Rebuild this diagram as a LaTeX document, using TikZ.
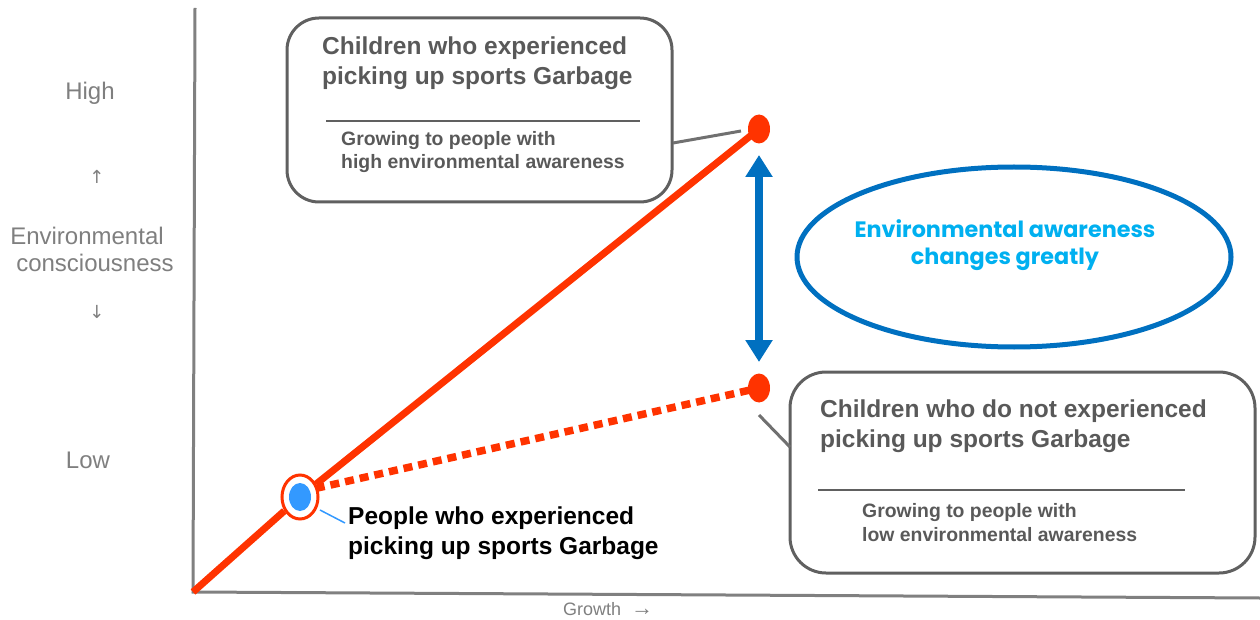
\documentclass[tikz,border=0pt]{standalone}
\usepackage{fontspec}
\setmainfont{Liberation Sans}
\newfontfamily\popfont{Poppins}
\newfontfamily\arrfont{DejaVu Sans}
\usetikzlibrary{shapes.geometric,arrows.meta}
\definecolor{redline}{HTML}{FF3300}
\definecolor{bluearrow}{HTML}{0070C0}
\definecolor{bluedot}{HTML}{3399FF}
\definecolor{cyantext}{HTML}{00B0F0}
\definecolor{boxgray}{HTML}{606060}
\definecolor{textgray}{HTML}{595959}
\definecolor{axisgray}{HTML}{808080}
\definecolor{labelgray}{HTML}{7F7F7F}
\tikzset{
  axisline/.style={draw=axisgray,line width=3pt},
  roundbox/.style={draw=boxgray,line width=3pt,rounded corners=32pt},
  titletext/.style={anchor=base west,inner sep=0pt,text=textgray,font=\fontsize{24.5}{30}\selectfont\bfseries},
  subtext/.style={anchor=base west,inner sep=0pt,text=textgray,font=\fontsize{19.4}{23}\selectfont\bfseries},
  sidelabel/.style={anchor=base,inner sep=0pt,text=labelgray,font=\fontsize{24}{28}\selectfont},
  reddot/.style={ellipse,fill=redline,minimum width=22pt,minimum height=29pt,inner sep=0pt},
  callout/.style={draw=boxgray!90,line width=3pt},
}
\begin{document}
\begin{tikzpicture}[x=1pt,y=-1pt]
\useasboundingbox (0,0) rectangle (1260,620);
% axes
\coordinate (ytop) at (195,8);
\coordinate (origin) at (193,592);
\coordinate (xend) at (1260,598);
\draw[axisline] (ytop) -- (origin) -- (xend);
% side labels
\node[sidelabel] (high) at (90,100) {High};
\node[sidelabel,font=\arrfont\fontsize{18}{20}\selectfont] (up) at (97,184) {↑};
\node[sidelabel] (env) at (87,245) {Environmental};
\node[sidelabel] (cons) at (95,271) {consciousness};
\node[sidelabel,font=\arrfont\fontsize{18}{20}\selectfont] (down) at (97,318) {↓};
\node[sidelabel] (low) at (88,468) {Low};
\node[anchor=base west,inner sep=0pt,text=labelgray,font=\fontsize{18}{20}\selectfont] (growth) at (563,615) {Growth\hspace{10pt}{\fontsize{22}{20}\selectfont →}};
% dots
\node[reddot] (hi) at (759,129) {};
\node[reddot] (lo) at (759,388) {};
\node[ellipse,draw=redline,fill=white,line width=3pt,minimum width=36pt,minimum height=44pt,inner sep=0pt] (start) at (300,497) {};
% lines
\draw[redline,line width=7pt] (origin) -- (start);
\draw[redline,line width=7pt] (start) -- (hi.center);
\draw[redline,line width=7.5pt,dash pattern=on 9pt off 6pt] (start.north east) ++(2,8) -- (lo.center);
\node[ellipse,fill=bluedot,minimum width=22pt,minimum height=28pt,inner sep=0pt] (startin) at (300,497) {};
% blue double arrow
\coordinate (atop) at (759,155);
\coordinate (abot) at (759,362);
\draw[bluearrow,line width=8pt,{Triangle[width=26pt,length=22pt]}-{Triangle[width=26pt,length=22pt]}] (atop) -- (abot);
% ellipse
\node[ellipse,draw=bluearrow,line width=5pt,minimum width=434pt,minimum height=180pt,inner sep=0pt] (bigell) at (1014,257) {};
\node[anchor=base,inner sep=0pt,text=cyantext,font=\popfont\fontsize{22.3}{26}\selectfont\bfseries] (ell1) at (1005,238) {Environmental awareness};
\node[anchor=base,inner sep=0pt,text=cyantext,font=\popfont\fontsize{22.3}{26}\selectfont\bfseries] (ell2) at (1005,265) {changes greatly};
% box 1
\draw[roundbox] (287,18) rectangle (672,202);
\node[titletext] (t1a) at (322,55) {Children who experienced};
\node[titletext] (t1b) at (322,85) {picking up sports Garbage};
\draw[boxgray,line width=1.2pt] (326,121) -- (640,121);
\node[subtext] (s1a) at (341,146) {Growing to people with};
\node[subtext] (s1b) at (341,169) {high environmental awareness};
\coordinate (c1a) at (673,143);
\coordinate (c1b) at (741,131);
\draw[callout] (c1a) -- (c1b);
% box 2
\draw[roundbox,rounded corners=36pt] (790,372) rectangle (1255,573);
\node[titletext] (t2a) at (820,417) {Children who do not experienced};
\node[titletext] (t2b) at (820,447) {picking up sports Garbage};
\draw[boxgray,line width=1.2pt] (818,490) -- (1185,490);
\node[subtext] (s2a) at (862,517) {Growing to people with};
\node[subtext] (s2b) at (862,541) {low environmental awareness};
\coordinate (c2a) at (759,415);
\coordinate (c2b) at (790,447);
\draw[callout] (c2a) -- (c2b);
% people label
\coordinate (p0) at (320,510);
\coordinate (p1) at (345,523);
\draw[bluedot,line width=1.5pt] (p0) -- (p1);
\node[anchor=base west,inner sep=0pt,font=\fontsize{24.5}{30}\selectfont\bfseries] (pa) at (348,524) {People who experienced};
\node[anchor=base west,inner sep=0pt,font=\fontsize{24.5}{30}\selectfont\bfseries] (pb) at (348,554) {picking up sports Garbage};
\end{tikzpicture}
\end{document}
